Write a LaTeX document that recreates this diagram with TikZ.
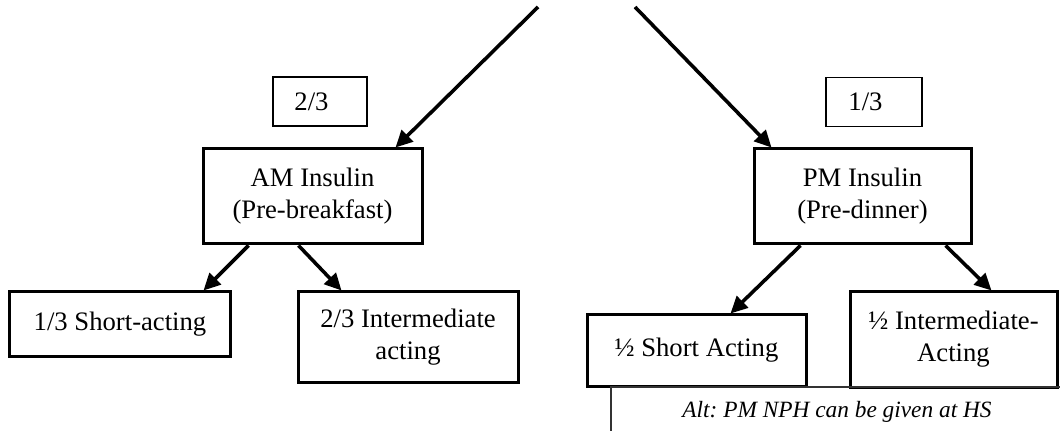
\documentclass[tikz,border=0pt]{standalone}
\usepackage{fontspec}
\setmainfont{Liberation Serif}
\usepackage{tikz}
\usetikzlibrary{arrows.meta,positioning,calc}
\frenchspacing

\begin{document}
\begin{tikzpicture}[x=0.45pt, y=-0.45pt,
    box/.style={draw, line width=1.35pt, align=center, inner sep=2pt,
                font=\fontsize{12}{14.4}\selectfont},
    share/.style={draw, line width=0.8pt, align=left, inner xsep=9.6pt,
                  text width=23pt, minimum height=22pt,
                  font=\fontsize{12}{14.4}\selectfont},
    note/.style={draw=black!80, line width=0.5pt, align=center,
                 font=\fontsize{10.5}{12.6}\selectfont\itshape},
    arr/.style={-{Triangle[length=7.6pt,width=7.2pt]}, line width=1.6pt}
]
\useasboundingbox (0,0) rectangle (1060,431);
\clip (0,0) rectangle (1060,431);

% split fractions
\node[share, minimum width=41.4pt] (fracam) at (320,101.5) {2/3};
\node[share, minimum width=43.2pt] (fracpm) at (874,102) {1/3};

% morning / evening doses
\node[box, minimum width=98.55pt, minimum height=42.75pt] (am) at (312.5,196.5)
    {AM Insulin\\(Pre-breakfast)};
\node[box, minimum width=97.65pt, minimum height=42.75pt] (pm) at (862.5,196.5)
    {PM Insulin\\(Pre-dinner)};

% insulin types
\node[box, minimum width=99pt, minimum height=29.25pt] (amshort) at (120,324.5)
    {1/3 Short-acting};
\node[box, minimum width=99pt, minimum height=40.5pt] (aminter) at (408,337)
    {2/3 Intermediate\\acting};
\node[box, minimum width=98.55pt, minimum height=31.95pt] (pmshort) at (696.5,350.5)
    {½ Short Acting};
\node[box, minimum width=93.15pt, minimum height=42.75pt] (pminter) at (953.5,339.5)
    {½ Intermediate-\\Acting};

\node[note, minimum width=203.4pt, minimum height=22.5pt] (alt) at (837,412)
    {Alt: PM NPH can be given at HS};

\coordinate (srcl) at (538,7);
\coordinate (srcr) at (635,7);
\draw[arr] (srcl) -- ($(am.north west)+(194,0)$);
\draw[arr] (srcr) -- ($(pm.north west)+(19,0)$);
\draw[arr] ($(am.south west)+(47,0)$) -- ($(amshort.north west)+(195,0)$);
\draw[arr] ($(am.south west)+(97,0)$) -- ($(aminter.north west)+(45,0)$);
\draw[arr] ($(pm.south west)+(48,0)$) -- ($(pmshort.north west)+(145,0)$);
\draw[arr] ($(pm.south west)+(193,0)$) -- ($(pminter.north west)+(143,0)$);
\end{tikzpicture}
\end{document}
